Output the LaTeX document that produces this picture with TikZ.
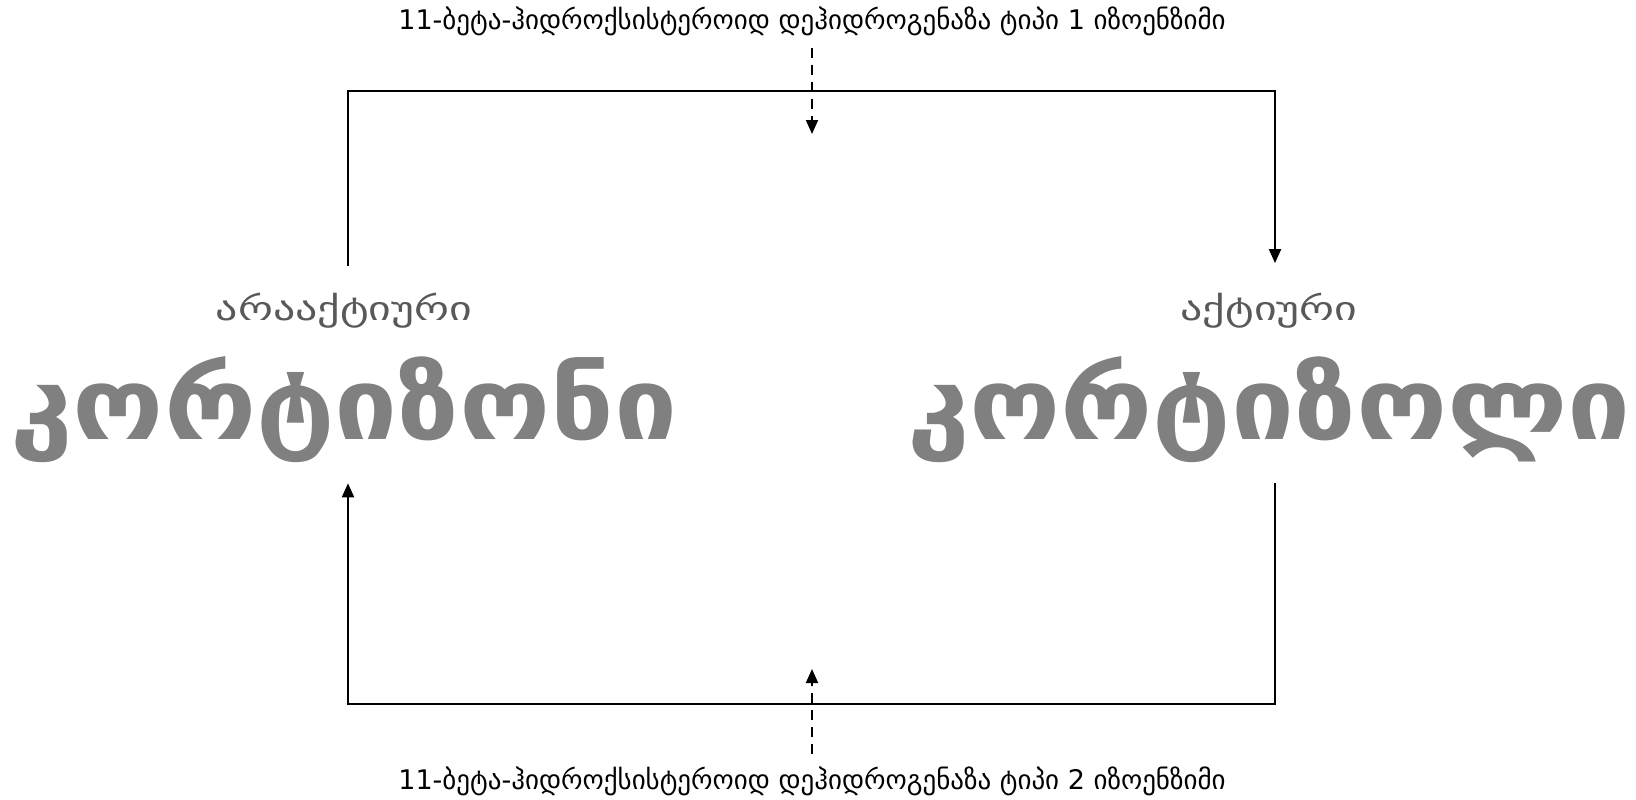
\documentclass[tikz,border=0pt]{standalone}
\usepackage{fontspec}
\setmainfont{DejaVu Sans}
\newfontfamily\bignamefont[FakeStretch=1.12]{DejaVu Sans}
\newfontfamily\statefont[FakeStretch=1.33]{DejaVu Sans}
\usetikzlibrary{arrows.meta,positioning}
\definecolor{namegray}{HTML}{808080}
\definecolor{stategray}{HTML}{595959}
\tikzset{
  bigname/.style={
    text=namegray,
    font=\bignamefont\fontsize{100}{110}\selectfont\bfseries,
    inner sep=0pt
  },
  statename/.style={
    text=stategray,
    font=\statefont\fontsize{33}{36}\selectfont,
    inner sep=0pt
  },
  enzname/.style={
    text=black,
    font=\fontsize{27}{30}\selectfont,
    inner sep=0pt
  },
  looparrow/.style={
    -{Triangle[length=14pt,width=12pt]},
    line width=2pt
  },
  enzarrow/.style={
    -{Triangle[length=14pt,width=12pt]},
    line width=2pt,
    dash pattern=on 10pt off 7pt
  }
}

\begin{document}
\begin{tikzpicture}[x=1pt,y=-1pt,node distance=28pt]
  \useasboundingbox (0,0) rectangle (1636,800);
  % cortisone / cortisol
  \node[bigname] (inactive) at (344,410) {კორტიზონი};
  \node[bigname] (active) at (1269,410) {კორტიზოლი};
  \node[statename, above=of inactive] (inactivelbl) {არააქტიური};
  \node[statename, above=of active] (activelbl) {აქტიური};
  % enzymes
  \node[enzname] (enzone) at (812,21) {11-ბეტა-ჰიდროქსისტეროიდ დეჰიდროგენაზა ტიპი 1 იზოენზიმი};
  \node[enzname] (enztwo) at (812,781) {11-ბეტა-ჰიდროქსისტეროიდ დეჰიდროგენაზა ტიპი 2 იზოენზიმი};
  \coordinate (enzonetip) at (812,134);
  \coordinate (enztwotip) at (812,669);
  % loops
  \draw[looparrow, shorten <=27pt, shorten >=30pt] (inactivelbl.north -| 348,0) -- (348,91) -- (1275,91) -- (activelbl.north -| 1275,0);
  \draw[looparrow, shorten <=20pt, shorten >=20pt] (active.south -| 1275,0) -- (1275,704) -- (348,704) -- (inactive.south -| 348,0);
  \draw[enzarrow, shorten <=12pt] (enzone) -- (enzonetip);
  \draw[enzarrow, shorten <=12pt] (enztwo) -- (enztwotip);
\end{tikzpicture}
\end{document}
